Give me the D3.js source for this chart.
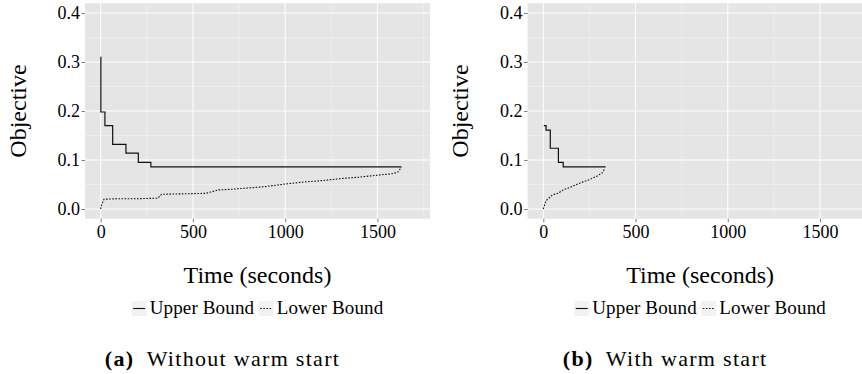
<!DOCTYPE html>
<html>
<head>
<meta charset="utf-8">
<script src="https://cdn.jsdelivr.net/npm/d3@7"></script>
</head>
<body style="margin:0;background:#fff">
<svg id="chart" width="862" height="374"></svg>
<script>
// upper bound (step) and lower bound
const upperTimeA = [0, 1, 23, 65, 137, 204, 272, 1630];
const upperObjA  = [0.31, 0.198, 0.170, 0.132, 0.114, 0.095, 0.086, 0.086];
const lowerTimeA = [0, 5, 18, 100, 200, 310, 330, 450, 570, 600, 640, 700, 800, 900, 1000, 1100, 1200, 1300, 1400, 1500, 1580, 1610, 1630];
const lowerObjA  = [0.000, 0.008, 0.020, 0.021, 0.021, 0.022, 0.030, 0.031, 0.032, 0.035, 0.039, 0.040, 0.043, 0.046, 0.051, 0.055, 0.058, 0.062, 0.065, 0.069, 0.072, 0.075, 0.085];

const upperTimeB = [3, 15, 38, 82, 108, 338];
const upperObjB  = [0.170, 0.161, 0.124, 0.095, 0.086, 0.086];
const lowerTimeB = [0, 5, 15, 30, 50, 80, 108, 150, 200, 250, 290, 320, 335];
const lowerObjB  = [0.000, 0.006, 0.017, 0.022, 0.029, 0.032, 0.039, 0.045, 0.053, 0.060, 0.067, 0.074, 0.083];

const xTicks = [0, 500, 1000, 1500];
const xMinor = [250, 750, 1250, 1750];
const yTicks = [0, 0.1, 0.2, 0.3, 0.4];
const yMinor = [0.05, 0.15, 0.25, 0.35];
const legendLabels = ["Upper Bound", "Lower Bound"];
const captionTags = ["(a)", "(b)"];
const captionTexts = ["Without warm start", "With warm start"];

const svg = d3.select("#chart");
const pw = 345, ph = 215.6;

const x = d3.scaleLinear().domain([-85, 1785]).range([0, pw]);
const y = d3.scaleLinear().domain([-0.02, 0.42]).range([ph, 0]);

function zip(ts, vs){ return ts.map((t,i)=>[t, vs[i]]); }

function txt(sel, size, extra){
  return sel.attr("style", "font-family:'Liberation Serif';font-size:"+size+"px;fill:#000;"+(extra||""));
}

function drawPanel(ox, upper, lower, idx){
  const root = svg.append("g").attr("transform","translate("+ox+",0)");
  const g = root.append("g").attr("transform","translate(85,3.2)");

  g.append("rect").attr("width",pw).attr("height",ph).attr("fill","#e5e5e5");

  // minor grid
  g.selectAll("line.xmin").data(xMinor).enter().append("line")
    .attr("x1",d=>x(d)).attr("x2",d=>x(d)).attr("y1",0).attr("y2",ph)
    .attr("stroke","#f2f2f2").attr("stroke-width",0.6);
  g.selectAll("line.ymin").data(yMinor).enter().append("line")
    .attr("y1",d=>y(d)).attr("y2",d=>y(d)).attr("x1",0).attr("x2",pw)
    .attr("stroke","#f2f2f2").attr("stroke-width",0.6);
  // major grid
  g.selectAll("line.xmaj").data(xTicks).enter().append("line")
    .attr("x1",d=>x(d)).attr("x2",d=>x(d)).attr("y1",0).attr("y2",ph)
    .attr("stroke","#fff").attr("stroke-width",1);
  g.selectAll("line.ymaj").data(yTicks).enter().append("line")
    .attr("y1",d=>y(d)).attr("y2",d=>y(d)).attr("x1",0).attr("x2",pw)
    .attr("stroke","#fff").attr("stroke-width",1);

  const line = d3.line().x(d=>x(d[0])).y(d=>y(d[1]));
  g.append("path").datum(lower)
    .attr("d",line)
    .attr("fill","none").attr("stroke","#111").attr("stroke-width",1.1)
    .attr("stroke-dasharray","1.6,1.5");
  g.append("path").datum(upper)
    .attr("d",line.curve(d3.curveStepAfter))
    .attr("fill","none").attr("stroke","#111").attr("stroke-width",1.2);

  // axes
  const ax = g.append("g").attr("transform","translate(0,"+ph+")")
    .call(d3.axisBottom(x).tickValues(xTicks).tickSize(3.5).tickPadding(3).tickFormat(d3.format("d")));
  const ay = g.append("g")
    .call(d3.axisLeft(y).tickValues(yTicks).tickSize(3.5).tickPadding(1.5).tickFormat(d3.format(".1f")));
  [ax, ay].forEach(a=>{
    a.attr("font-family", null).attr("font-size", null);
    a.select(".domain").remove();
    a.selectAll(".tick line").attr("stroke","#7f7f7f");
    txt(a.selectAll(".tick text"), 18);
  });

  txt(root.append("text"), 24)
    .attr("transform","translate(25.5,"+(3.2+ph/2)+") rotate(-90)")
    .attr("text-anchor","middle")
    .text("Objective");

  txt(root.append("text"), 24)
    .attr("x",85+pw/2).attr("y",283)
    .attr("text-anchor","middle")
    .text("Time (seconds)");

  // legend
  const lg = root.append("g");
  let cx = 0;
  legendLabels.forEach((lab,i)=>{
    const item = lg.append("g").attr("transform","translate("+cx+",0)");
    item.append("rect").attr("x",0).attr("y",301).attr("width",15).attr("height",15).attr("fill","#f2f2f2");
    item.append("line").attr("x1",1.5).attr("x2",13.5).attr("y1",308.5).attr("y2",308.5)
      .attr("stroke","#111").attr("stroke-width",1.1)
      .attr("stroke-dasharray", i===1 ? "1.6,1.5" : null);
    const t = txt(item.append("text"), 19, "letter-spacing:0.15px;").attr("x",18).attr("y",314).text(lab);
    cx += 18 + t.node().getComputedTextLength() + 4.5;
  });
  const lw = cx - 4.5;
  lg.attr("transform","translate("+(85+pw/2-lw/2)+",0)");

  const cap = txt(root.append("text"), 22, "letter-spacing:1.3px;")
    .attr("x",85+pw/2-35).attr("y",366)
    .attr("text-anchor","middle");
  cap.append("tspan").attr("style","font-weight:bold").text(captionTags[idx]);
  cap.append("tspan").text("\u2002"+captionTexts[idx]);
}

drawPanel(0, zip(upperTimeA, upperObjA), zip(lowerTimeA, lowerObjA), 0);
drawPanel(442.6, zip(upperTimeB, upperObjB), zip(lowerTimeB, lowerObjB), 1);
</script>
</body>
</html>
